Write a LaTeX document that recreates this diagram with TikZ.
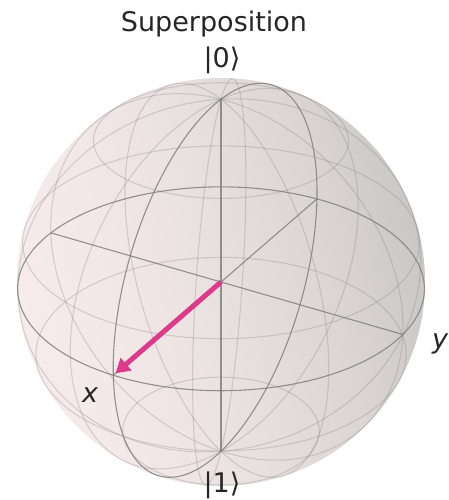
\documentclass[tikz,border=0pt]{standalone}
\usepackage{fontspec}
\setmainfont{DejaVu Sans}
\usetikzlibrary{arrows.meta}
\definecolor{sphL}{RGB}{247,235,235}
\definecolor{sphLM}{RGB}{242,231,231}
\definecolor{sphM}{RGB}{232,224,224}
\definecolor{sphRM}{RGB}{220,213,213}
\definecolor{sphR}{RGB}{203,199,199}
\definecolor{vecpink}{RGB}{222,58,140}
\definecolor{framegray}{RGB}{128,128,128}
\pgfdeclarehorizontalshading{sph}{100bp}{color(0bp)=(sphL); color(25bp)=(sphL); color(38bp)=(sphLM); color(50bp)=(sphM); color(63bp)=(sphRM); color(75bp)=(sphR); color(100bp)=(sphR)}
\tikzset{
  declare function={
    pfac(\a,\b,\c)=13/(13-(0.75*\a+0.433*\b+0.5*\c));
    px(\a,\b,\c)=221+203*pfac(\a,\b,\c)*(0.866*\b-0.5*\a);
    py(\a,\b,\c)=218+203*pfac(\a,\b,\c)*(-0.25*\b-0.433*\a+0.866*\c);
  },
  wire/.style={draw=framegray, draw opacity=0.28, line width=1.1pt, line join=round},
  frame/.style={draw=framegray, draw opacity=0.85, line width=1.1pt, line join=round},
  vec/.style={draw=vecpink, line width=5pt, -{Triangle[length=14pt,width=16pt]}, shorten >=3pt},
  lbl/.style={font=\fontsize{27}{32}\selectfont, text=black!85, inner sep=0pt, anchor=base},
  axlbl/.style={lbl, font=\fontsize{27}{32}\selectfont\itshape},
}
\begin{document}
\begin{tikzpicture}[x=1pt,y=1pt]
\useasboundingbox (0,0) rectangle (448,500);
% sphere body
\coordinate (O) at (221,218);
\shade[shading=sph, shading angle=12] (O) circle[radius=204];
% light wireframe: latitudes
\foreach \v in {37.5,75,112.5,150}{
  \draw[wire] plot[variable=\t, domain=0:360, samples=121]
    ({px(sin(\v)*cos(\t), sin(\v)*sin(\t), cos(\v))},{py(sin(\v)*cos(\t), sin(\v)*sin(\t), cos(\v))});
}
% light wireframe: meridians
\foreach \u in {0,37.5,75,112.5,150,180,-142.5,-105,-67.5,-30}{
  \draw[wire] plot[variable=\t, domain=0:180, samples=61]
    ({px(-sin(\u)*sin(\t), cos(\u)*sin(\t), cos(\t))},{py(-sin(\u)*sin(\t), cos(\u)*sin(\t), cos(\t))});
}
% axis points
\coordinate (Xp) at ({px(1,0,0)},{py(1,0,0)});
\coordinate (Xm) at ({px(-1,0,0)},{py(-1,0,0)});
\coordinate (Yp) at ({px(0,1,0)},{py(0,1,0)});
\coordinate (Ym) at ({px(0,-1,0)},{py(0,-1,0)});
\coordinate (Zp) at ({px(0,0,1)},{py(0,0,1)});
\coordinate (Zm) at ({px(0,0,-1)},{py(0,0,-1)});
% equator and x-z great circle
\draw[frame] plot[variable=\t, domain=0:360, samples=145]
  ({px(cos(\t), sin(\t), 0)},{py(cos(\t), sin(\t), 0)});
\draw[frame] plot[variable=\t, domain=0:360, samples=145]
  ({px(cos(\t), 0, sin(\t))},{py(cos(\t), 0, sin(\t))});
% axes
\draw[frame] (Xm) -- (Xp);
\draw[frame] (Ym) -- (Yp);
\draw[frame] (Zm) -- (Zp);
% state vector
\draw[vec] (O) -- (Xp);
% labels
\node[lbl] (title) at (214,468) {Superposition};
\node[lbl] (ket0) at (222,432) {|0⟩};
\node[lbl] (ket1) at (222,7) {|1⟩};
\node[axlbl] (xl) at (90,97) {x};
\node[axlbl] (yl) at (440,151) {y};
\end{tikzpicture}
\end{document}
